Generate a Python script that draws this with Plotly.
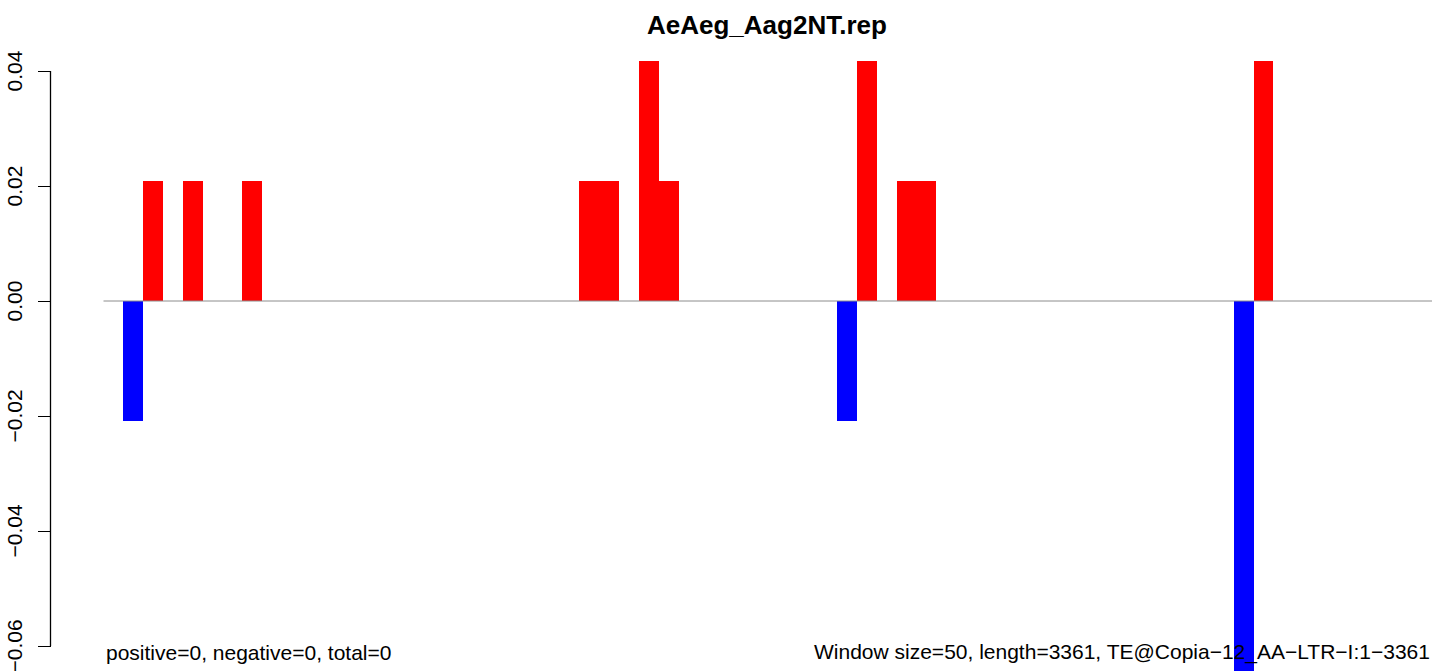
import plotly.graph_objects as go

# ---- data ----
window_size = 50
n_windows = 67
seq_length = 3361
pos_windows = [2, 4, 7, 24, 25, 27, 28, 38, 40, 41, 58]
pos_values = [0.0208, 0.0208, 0.0208, 0.0208, 0.0208, 0.0417, 0.0208, 0.0417, 0.0208, 0.0208, 0.0417]
neg_windows = [1, 37, 57]
neg_values = [-0.0208, -0.0208, -0.0833]
y_ticks = [-0.06, -0.04, -0.02, 0.00, 0.02, 0.04]
y_tick_labels = ["\u22120.06", "\u22120.04", "\u22120.02", "0.00", "0.02", "0.04"]
title_text = "AeAeg_Aag2NT.rep"
left_note = "positive=0, negative=0, total=0"
right_note = "Window size=50, length=3361, TE@Copia\u221212_AA\u2212LTR\u2212I:1\u22123361"

# ---- layout geometry ----
W, H = 1439, 671
x_left_px, x_right_px = 103.5, 1432.0
span = n_windows * window_size
ppu = (x_right_px - x_left_px) / span
x_range = [-x_left_px / ppu, (W - x_left_px) / ppu]
y0_px = 301.0
ppy = 5750.0
y_range = [-(H - y0_px) / ppy, y0_px / ppy]
axis_px = 50.5
FONT = "Liberation Sans, Arial, Helvetica, sans-serif"

fig = go.Figure()
fig.add_trace(go.Bar(
    x=[w * window_size + window_size / 2 for w in pos_windows], y=pos_values,
    width=window_size, marker=dict(color="#FF0000", line=dict(width=0)), showlegend=False))
fig.add_trace(go.Bar(
    x=[w * window_size + window_size / 2 for w in neg_windows], y=neg_values,
    width=window_size, marker=dict(color="#0000FF", line=dict(width=0)), showlegend=False))

shapes = [
    dict(type="line", xref="x", yref="y", x0=0, x1=span, y0=0, y1=0,
         line=dict(color="#8c8c8c", width=1), layer="above"),
    dict(type="line", xref="paper", yref="y", x0=axis_px / W, x1=axis_px / W,
         y0=min(y_ticks), y1=max(y_ticks), line=dict(color="black", width=1.3)),
]

annotations = [
    dict(text="<b>" + title_text + "</b>", xref="paper", yref="paper",
         x=766.5 / W, y=1 - 24.5 / H, xanchor="center", yanchor="middle",
         showarrow=False, font=dict(family=FONT, size=26, color="black")),
    dict(text=left_note, xref="x", yref="paper", x=0, y=1 - 652 / H,
         xanchor="left", yanchor="middle", showarrow=False,
         font=dict(family=FONT, size=21, color="black")),
    dict(text=right_note, xref="x", yref="paper", x=span, y=1 - 652 / H,
         xanchor="right", yanchor="middle", showarrow=False,
         font=dict(family=FONT, size=21, color="black")),
]
for v, t in zip(y_ticks, y_tick_labels):
    annotations.append(dict(text=t, xref="paper", yref="y", x=13.5 / W, y=v,
                            xanchor="center", yanchor="middle", textangle=-90,
                            showarrow=False, font=dict(family=FONT, size=21, color="black")))

fig.update_layout(
    width=W, height=H, margin=dict(l=0, r=0, t=0, b=0),
    paper_bgcolor="white", plot_bgcolor="white",
    barmode="overlay", bargap=0,
    xaxis=dict(range=x_range, visible=False, fixedrange=True),
    yaxis=dict(range=y_range, showgrid=False, zeroline=False, showline=False,
               anchor="free", position=axis_px / W,
               tickvals=y_ticks, ticks="outside", ticklen=13, tickwidth=1.3,
               tickcolor="black", showticklabels=False, fixedrange=True),
    shapes=shapes, annotations=annotations,
)
fig.write_html("out.html", config={"displayModeBar": False},
               post_script="document.body.style.margin='0';document.body.style.overflow='hidden';")
